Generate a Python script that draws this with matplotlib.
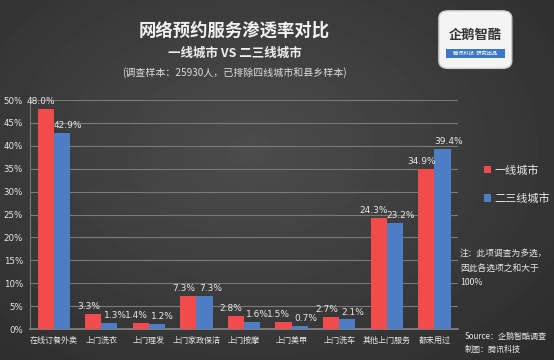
import numpy as np
import matplotlib.pyplot as plt
from matplotlib.patches import FancyBboxPatch, Rectangle

plt.rcParams['font.family'] = ['Noto Sans CJK SC', 'DejaVu Sans']

categories = ['在线订餐外卖', '上门洗衣', '上门理发', '上门家政保洁', '上门按摩',
              '上门美甲', '上门洗车', '其他上门服务', '都未用过']
tier1 = [48.0, 3.3, 1.4, 7.3, 2.8, 1.5, 2.7, 24.3, 34.9]
tier23 = [42.9, 1.3, 1.2, 7.3, 1.6, 0.7, 2.1, 23.2, 39.4]
series_names = ['一线城市', '二三线城市']
yticks = [0, 5, 10, 15, 20, 25, 30, 35, 40, 45, 50]

red = '#f24b4b'
blue = '#4d7ec4'
txt = '#e8e8e8'

fig = plt.figure(figsize=(5.54, 3.6), dpi=100)

# dark radial background
bg = fig.add_axes([0, 0, 1, 1], zorder=-10)
yy, xx = np.mgrid[0:360, 0:554]
r = np.sqrt(((xx - 250) / 420.0) ** 2 + ((yy - 150) / 300.0) ** 2)
img = np.clip(0.30 - 0.13 * r, 0.12, 0.32)
bg.imshow(img, cmap='gray', vmin=0, vmax=1, aspect='auto', extent=[0, 554, 360, 0])
bg.set_axis_off()

ax = fig.add_axes([0.054, 0.086, 0.773, 0.636])
ax.set_facecolor('none')
x = np.arange(len(categories))
w = 0.34
b1 = ax.bar(x - w / 2, tier1, w, color=red, label=series_names[0], zorder=3)
b2 = ax.bar(x + w / 2, tier23, w, color=blue, label=series_names[1], zorder=3)

for rect, v in zip(b1, tier1):
    ax.text(rect.get_x() + rect.get_width() / 2 - 0.1, v + 0.6, f'{v:.1f}%',
            ha='center', va='bottom', fontsize=6.5, color=txt, family='DejaVu Sans')
for rect, v in zip(b2, tier23):
    ax.text(rect.get_x() + rect.get_width() / 2 + 0.12, v + 0.6, f'{v:.1f}%',
            ha='center', va='bottom', fontsize=6.5, color=txt, family='DejaVu Sans')

ax.set_xlim(-0.5, len(categories) - 0.5)
ax.set_ylim(0, 50)
ax.set_yticks(yticks)
ax.set_yticklabels([f'{t}%' for t in yticks], fontsize=6.2, color=txt, family='DejaVu Sans')
ax.set_xticks(x)
ax.set_xticklabels(categories, fontsize=5.8, color=txt)
ax.tick_params(axis='both', length=0, pad=5)
ax.yaxis.grid(True, color='#7a7a7a', linewidth=0.8, zorder=0)
for s in ['top', 'right']:
    ax.spines[s].set_visible(False)
ax.spines['left'].set_color('#777777')
ax.spines['bottom'].set_color('#888888')
ax.spines['bottom'].set_linewidth(1.2)

leg = fig.legend(loc='upper left', bbox_to_anchor=(0.855, 0.57), frameon=False,
                 fontsize=8, labelcolor=txt, handlelength=0.7, handleheight=0.7,
                 handletextpad=0.3, labelspacing=1.6)

# titles
fig.text(0.422, 0.915, '网络预约服务渗透率对比', ha='center', va='center',
         fontsize=12.5, fontweight='bold', color='#f2f2f2')
fig.text(0.424, 0.852, '一线城市 VS 二三线城市', ha='center', va='center',
         fontsize=9, fontweight='bold', color='#eeeeee')
fig.text(0.424, 0.798, '(调查样本：25930人，已排除四线城市和县乡样本)', ha='center', va='center',
         fontsize=7.2, color='#dddddd')

# note and source
fig.text(0.830, 0.255, '注：此项调查为多选，\n因此各选项之和大于\n100%', ha='left', va='center',
         fontsize=6.3, color=txt, style='italic', linespacing=1.8)
fig.text(0.838, 0.047, 'Source：企鹅智酷调查\n制图：腾讯科技', ha='left', va='center',
         fontsize=5.8, color=txt, style='italic', linespacing=1.6)

# logo box
logo = fig.add_axes([0.788, 0.805, 0.14, 0.17])
logo.set_xlim(0, 1)
logo.set_ylim(0, 1)
logo.set_axis_off()
logo.add_patch(FancyBboxPatch((0.03, 0.03), 0.94, 0.94, boxstyle='round,pad=0,rounding_size=0.12',
                              facecolor='#f4f4f4', edgecolor='#cccccc'))
logo.text(0.5, 0.58, '企鹅智酷', ha='center', va='center', fontsize=9.5, color='#333333',
          fontweight='bold')
logo.add_patch(Rectangle((0.12, 0.2), 0.76, 0.14, facecolor='#3d78c8'))
logo.text(0.5, 0.27, '腾讯科技  研究出品', ha='center', va='center', fontsize=3.8, color='white')

fig.savefig('out.png', dpi=100)
